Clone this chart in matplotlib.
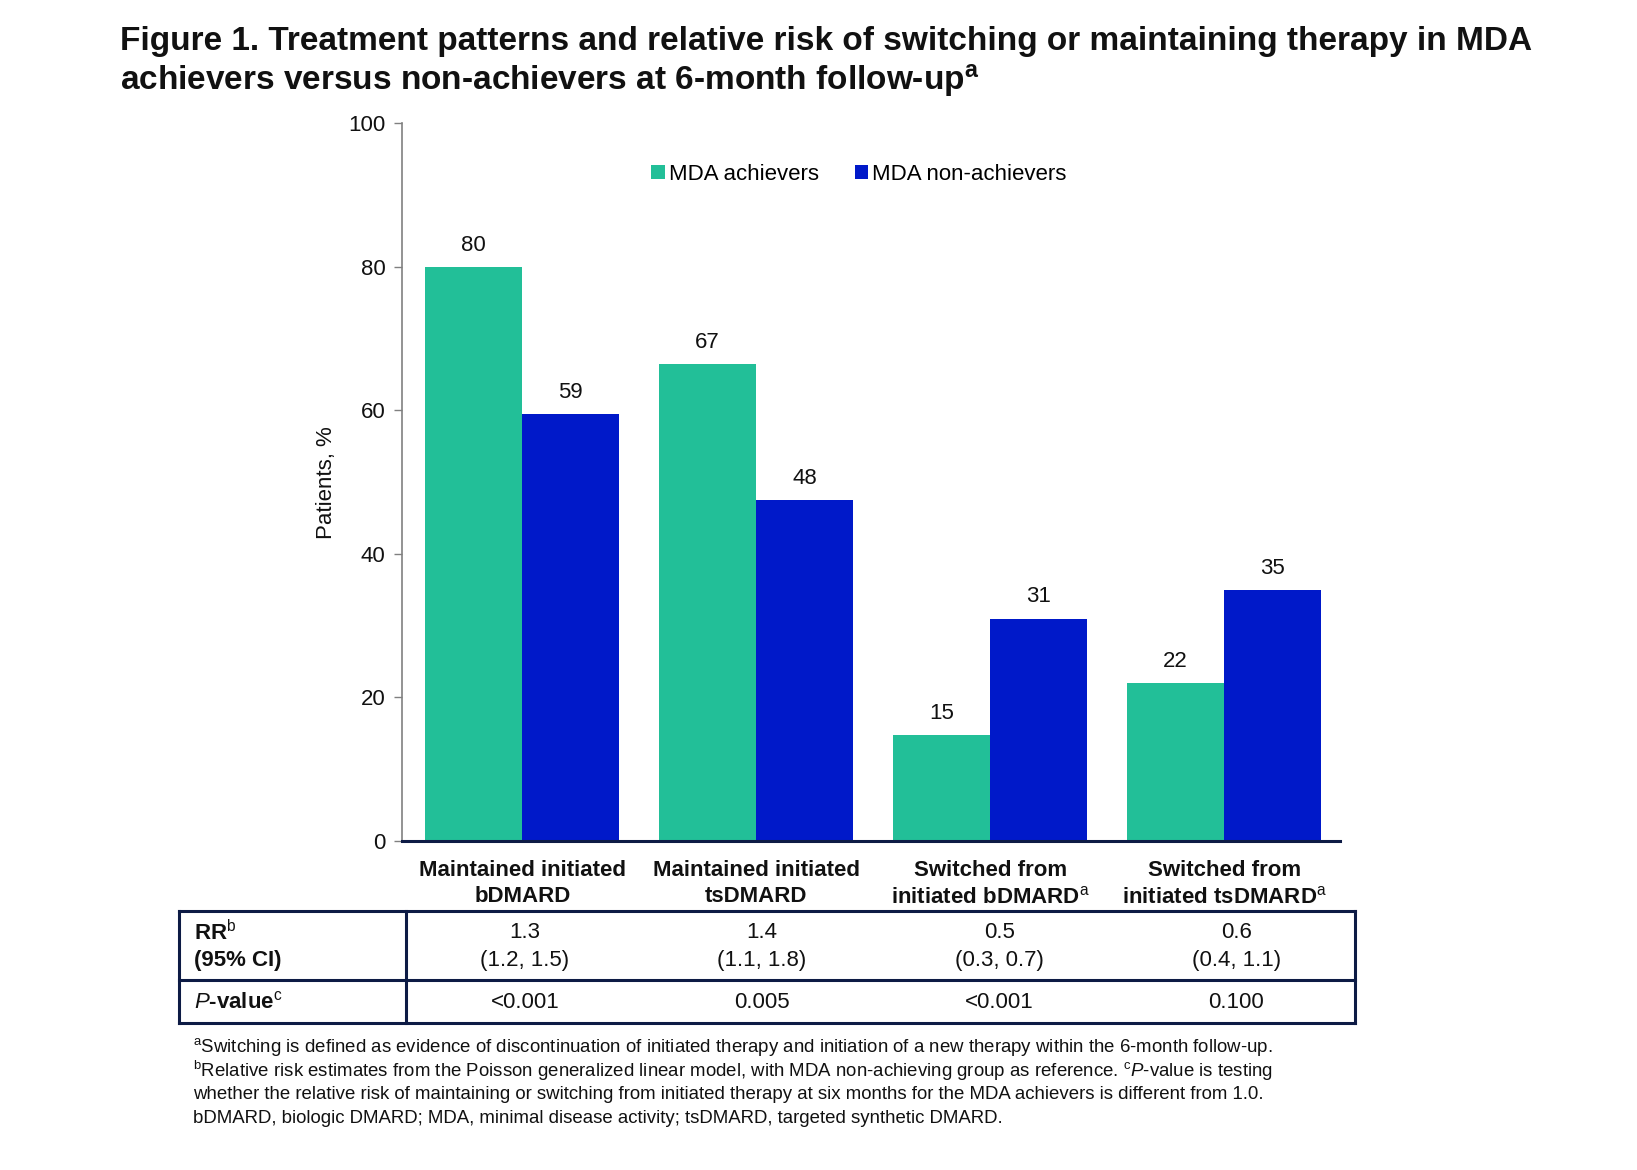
import numpy as np
import matplotlib
matplotlib.use("Agg")
import matplotlib.pyplot as plt
from matplotlib.lines import Line2D

plt.rcParams['font.family'] = ['Liberation Sans', 'DejaVu Sans']
plt.rcParams['mathtext.fontset'] = 'custom'
plt.rcParams['mathtext.rm'] = 'Liberation Sans'
plt.rcParams['mathtext.it'] = 'Liberation Sans:italic'
plt.rcParams['mathtext.bf'] = 'Liberation Sans:bold'

# data
categories = ["Maintained initiated\nbDMARD", "Maintained initiated\ntsDMARD",
              "Switched from\ninitiated bDMARD$^{\\mathrm{a}}$",
              "Switched from\ninitiated tsDMARD$^{\\mathrm{a}}$"]
achievers = [80, 66.5, 14.7, 22]
non_achievers = [59.5, 47.5, 31, 35]
achievers_lbl = ["80", "67", "15", "22"]
non_achievers_lbl = ["59", "48", "31", "35"]
rr = ["1.3", "1.4", "0.5", "0.6"]
ci = ["(1.2, 1.5)", "(1.1, 1.8)", "(0.3, 0.7)", "(0.4, 1.1)"]
pvals = ["<0.001", "0.005", "<0.001", "0.100"]

green = "#22BF98"
blue = "#0019C9"
navy = "#0D1B45"
txt = "#111111"

fig = plt.figure(figsize=(16.37, 11.70), dpi=100)
ax = fig.add_axes([0.2457, 0.2812, 0.8188 - 0.2457, 0.8946 - 0.2812])

x = np.arange(len(categories))
w = 0.415
b1 = ax.bar(x - w / 2, achievers, w, color=green, label="MDA achievers")
b2 = ax.bar(x + w / 2, non_achievers, w, color=blue, label="MDA non-achievers")
ax.bar_label(b1, labels=achievers_lbl, padding=8, fontsize=16, color=txt)
ax.bar_label(b2, labels=non_achievers_lbl, padding=8, fontsize=16, color=txt)

ax.set_xlim(-0.513, 3.496)
ax.set_ylim(0, 100)
ax.set_yticks(range(0, 101, 20))
ax.tick_params(axis='y', labelsize=16, color='#808080', length=6, width=1, pad=6, labelcolor=txt)
ax.set_xticks(x)
ax.set_xticklabels(categories, fontsize=16, fontweight='bold', color=txt, linespacing=1.3)
ax.tick_params(axis='x', length=0, pad=14)
ax.set_ylabel("Patients, %", fontsize=16, color=txt, labelpad=8)

for s in ['top', 'right']:
    ax.spines[s].set_visible(False)
ax.spines['left'].set_color('#808080')
ax.spines['left'].set_linewidth(1.2)
ax.spines['bottom'].set_color(navy)
ax.spines['bottom'].set_linewidth(2.2)

ax.legend(loc='center', bbox_to_anchor=(0.487, 0.929), ncol=2, frameon=False, fontsize=16,
          handlelength=0.6, handleheight=0.6, handletextpad=0.2, columnspacing=1.6)

# title
fig.text(0.0734, 0.978, "Figure 1. Treatment patterns and relative risk of switching or maintaining therapy in MDA\n"
         "achievers versus non-achievers at 6-month follow-up$^{\\mathbf{a}}$",
         fontsize=24, fontweight='bold', color=txt, va='top', ha='left', linespacing=1.2)

# table
tl, tr, tt, tm, tb, tv = 0.1091, 0.8277, 1 - 872 / 1120, 1 - 938 / 1120, 1 - 979 / 1120, 0.2482
lw = 2.2
for (xs, ys) in [([tl, tr], [tt, tt]), ([tl, tr], [tm, tm]), ([tl, tr], [tb, tb]),
                 ([tl, tl], [tt, tb]), ([tr, tr], [tt, tb]), ([tv, tv], [tt, tb])]:
    fig.add_artist(Line2D(xs, ys, color=navy, lw=lw, transform=fig.transFigure))

fig.text(0.1187, 1 - 893 / 1120, "RR$^{\\mathrm{b}}$", fontsize=16, fontweight='bold', color=txt, va='center')
fig.text(0.1187, 1 - 919 / 1120, "(95% CI)", fontsize=16, fontweight='bold', color=txt, va='center')
fig.text(0.1187, 1 - 960 / 1120, "$\\mathbf{\\mathit{P}}$-value$^{\\mathrm{c}}$", fontsize=16,
         fontweight='bold', color=txt, va='center')
colw = (tr - tv) / 4
for i in range(4):
    cx = tv + colw * (i + 0.5)
    fig.text(cx, 1 - 893 / 1120, rr[i], fontsize=16, color=txt, ha='center', va='center')
    fig.text(cx, 1 - 919 / 1120, ci[i], fontsize=16, color=txt, ha='center', va='center')
    fig.text(cx, 1 - 960 / 1120, pvals[i], fontsize=16, color=txt, ha='center', va='center')

# footnotes
notes = [
    "$^{\\mathrm{a}}$Switching is defined as evidence of discontinuation of initiated therapy and initiation of a new therapy within the 6-month follow-up.",
    "$^{\\mathrm{b}}$Relative risk estimates from the Poisson generalized linear model, with MDA non-achieving group as reference. $^{\\mathrm{c}}\\mathit{P}$-value is testing",
    "whether the relative risk of maintaining or switching from initiated therapy at six months for the MDA achievers is different from 1.0.",
    "bDMARD, biologic DMARD; MDA, minimal disease activity; tsDMARD, targeted synthetic DMARD.",
]
for i, n in enumerate(notes):
    fig.text(0.118, 1 - (1002 + 23 * i) / 1120, n, fontsize=13.4, color=txt, va='center', ha='left')

fig.savefig("out.png", dpi=100)
